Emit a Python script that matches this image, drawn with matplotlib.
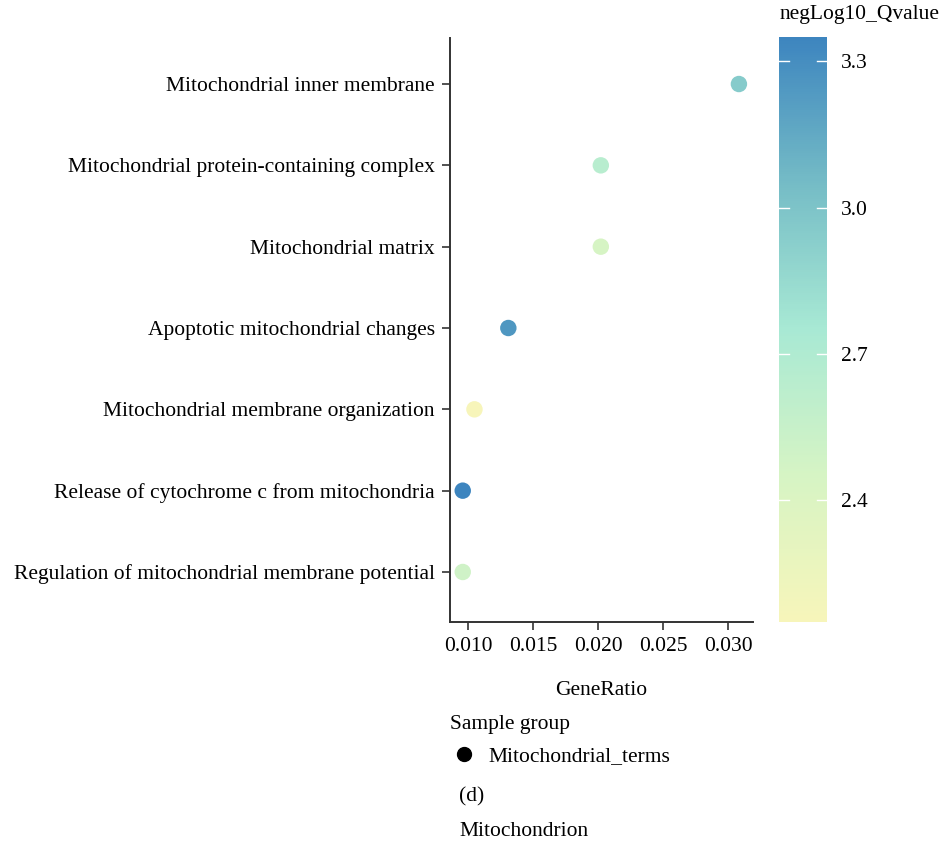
import numpy as np
import matplotlib.pyplot as plt
from matplotlib.colors import LinearSegmentedColormap, Normalize
from matplotlib.lines import Line2D

plt.rcParams['font.family'] = ['Liberation Serif', 'DejaVu Serif']
FS = 15.5

terms = [
    'Mitochondrial inner membrane',
    'Mitochondrial protein-containing complex',
    'Mitochondrial matrix',
    'Apoptotic mitochondrial changes',
    'Mitochondrial membrane organization',
    'Release of cytochrome c from mitochondria',
    'Regulation of mitochondrial membrane potential',
]
gene_ratio = [0.0308, 0.0202, 0.0202, 0.0131, 0.0105, 0.0096, 0.0096]
neg_log10_q = [2.95, 2.65, 2.45, 3.25, 2.15, 3.35, 2.50]
x_ticks = [0.010, 0.015, 0.020, 0.025, 0.030]
cbar_ticks = [2.4, 2.7, 3.0, 3.3]

cmap = LinearSegmentedColormap.from_list(
    'ylgnbu_soft',
    ['#f7f5ba', '#d6f4c4', '#a8e9d4', '#75bcc6', '#3d85bf'])
norm = Normalize(vmin=2.15, vmax=3.35)

fig = plt.figure(figsize=(9.39, 8.48), dpi=100)
ax = fig.add_axes([0.4792, 0.2665, 0.3227, 0.6887])

ypos = np.arange(len(terms))
ax.scatter(gene_ratio, ypos, c=neg_log10_q, cmap=cmap, norm=norm,
           s=140, edgecolors='none', zorder=3)

ax.set_yticks(ypos)
ax.set_yticklabels(terms, fontsize=FS)
ax.set_ylim(6.615, -0.566)
ax.set_xlim(0.00862, 0.03188)
ax.set_xticks(x_ticks)
ax.set_xticklabels([f'{t:.3f}' for t in x_ticks], fontsize=FS)
ax.set_xlabel('GeneRatio', fontsize=FS, labelpad=18)

for side in ['top', 'right']:
    ax.spines[side].set_visible(False)
for side in ['left', 'bottom']:
    ax.spines[side].set_color('#333333')
    ax.spines[side].set_linewidth(1.4)
ax.tick_params(axis='both', length=6, width=1.2, color='#333333', pad=5)

# colour bar with short white ticks on both edges
cax = fig.add_axes([0.8296, 0.2665, 0.0511, 0.69])
sm = plt.cm.ScalarMappable(cmap=cmap, norm=norm)
cb = fig.colorbar(sm, cax=cax)
cb.outline.set_visible(False)
cb.set_ticks(cbar_ticks)
cb.set_ticklabels([f'{t:.1f}' for t in cbar_ticks])
cax.tick_params(length=0, labelsize=FS, pad=10)
for t in cbar_ticks:
    for x0, x1 in [(0.0, 0.2), (0.8, 1.0)]:
        cax.plot([x0, x1], [t, t], color='white', lw=1.0,
                 transform=cax.get_yaxis_transform())
fig.text(0.915, 0.983, 'negLog10_Qvalue', fontsize=FS, ha='center', va='center')

# group legend and panel notes
fig.text(0.479, 0.146, 'Sample group', fontsize=FS, va='center')
handle = Line2D([], [], marker='o', color='black', linestyle='none', markersize=10)
fig.legend([handle], ['Mitochondrial_terms'], loc='center left',
           bbox_to_anchor=(0.474, 0.108), frameon=False, fontsize=FS,
           handletextpad=0.6, handlelength=1.0, borderaxespad=0)
fig.text(0.489, 0.060, '(d)', fontsize=FS, va='center')
fig.text(0.489, 0.019, 'Mitochondrion', fontsize=FS, va='center')

fig.savefig('out.png', dpi=100)
